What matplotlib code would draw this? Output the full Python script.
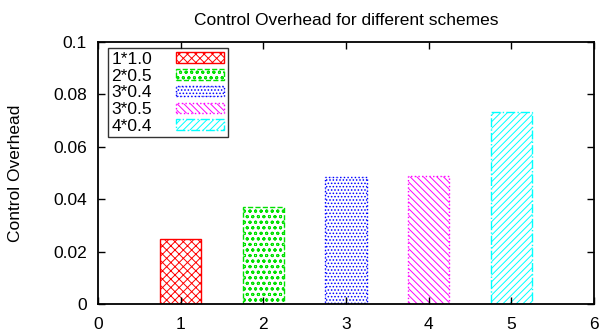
import matplotlib
matplotlib.use("Agg")
import matplotlib.pyplot as plt

plt.rcParams['font.family'] = ['Liberation Sans', 'DejaVu Sans']
plt.rcParams['hatch.linewidth'] = 0.7

# data
positions = [1, 2, 3, 4, 5]
overhead = [0.0247, 0.0369, 0.0483, 0.0490, 0.0731]
schemes = ['1*1.0', '2*0.5', '3*0.4', '3*0.5', '4*0.4']
colors = ['#ff0000', '#00e000', '#0000ff', '#ff00ff', '#00ffff']
hatches = ['xxxx', 'ooo', '.....', '\\\\\\\\\\', '/////']
edge_styles = ['-', '--', ':', ':', '-.']
yticks = [0, 0.02, 0.04, 0.06, 0.08, 0.1]
ytick_labels = ['0', '0.02', '0.04', '0.06', '0.08', '0.1']
xticks = [0, 1, 2, 3, 4, 5, 6]

fig = plt.figure(figsize=(6, 3.32), dpi=100)
ax = fig.add_axes([0.163, 0.084, 0.827, 0.79])

for i in range(len(positions)):
    ax.bar(positions[i], overhead[i], width=0.5, color='white',
           edgecolor=colors[i], hatch=hatches[i], linestyle=edge_styles[i],
           linewidth=1.0, label=schemes[i])

ax.set_xlim(0, 6)
ax.set_ylim(0, 0.1)
ax.set_xticks(xticks)
ax.set_yticks(yticks)
ax.set_yticklabels(ytick_labels)
ax.tick_params(direction='in', top=True, right=True, length=5, width=1,
               labelsize=12.5)
ax.tick_params(axis='x', pad=9)
ax.tick_params(axis='y', pad=8)
for s in ax.spines.values():
    s.set_linewidth(1.3)

ax.set_title("Control Overhead for different schemes", fontsize=12.5, pad=12)
ax.set_ylabel("Control Overhead", fontsize=12.5)
ax.yaxis.set_label_coords(-0.15, 0.5)

leg = ax.legend(loc='upper left', bbox_to_anchor=(0.01, 0.995),
                markerfirst=False, fontsize=12.5,
                handlelength=2.8, handleheight=0.55, labelspacing=0.1,
                borderpad=0.2, handletextpad=1.35, borderaxespad=0.3,
                fancybox=False, frameon=True)
leg.get_frame().set_edgecolor('black')
leg.get_frame().set_linewidth(1.0)

plt.savefig("out.png", dpi=100)
